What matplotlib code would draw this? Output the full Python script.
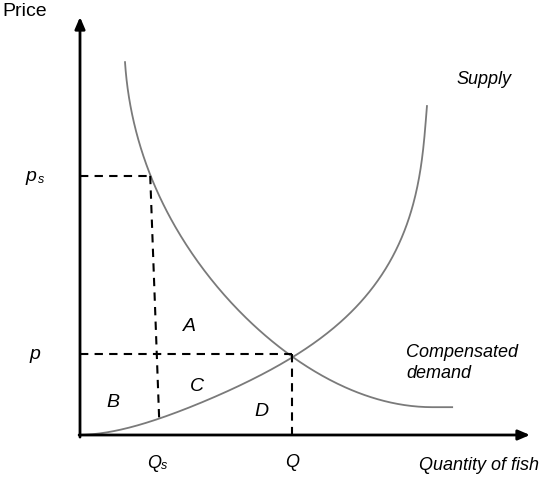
import numpy as np
import matplotlib
matplotlib.use("Agg")
import matplotlib.pyplot as plt

# Curve points (quantity, price), arbitrary units
supply_q = [0.0, 0.73, 1.73, 2.44, 3.18, 3.93, 4.71, 5.71, 6.44, 7.04, 7.40, 7.62, 7.71]
supply_p = [0.0, 0.12, 0.36, 0.65, 1.00, 1.39, 1.91, 2.58, 3.40, 4.50, 5.62, 6.58, 7.87]
demand_q = [1.0, 1.18, 1.56, 1.89, 2.38, 2.89, 3.78, 4.71, 5.11, 5.56, 6.16, 6.89, 7.62, 8.27]
demand_p = [8.92, 7.61, 6.22, 5.43, 4.50, 3.71, 2.80, 1.91, 1.56, 1.27, 1.00, 0.79, 0.72, 0.69]

p_s = 6.20
p_eq = 1.93
Q_eq = 4.71
Qs_top, Qs_bot = 1.56, 1.76
Qs_bot_p = 0.36

area_labels = ["A", "B", "C", "D"]
area_q = [2.44, 0.73, 2.6, 4.04]
area_p = [2.6, 0.77, 1.15, 0.57]


def smooth_param(xs, ys, deg=6, n=300):
    xs = np.asarray(xs, float)
    ys = np.asarray(ys, float)
    seg = np.hypot(np.diff(xs) * 45, np.diff(ys) * 41.8)
    t = np.concatenate([[0], np.cumsum(seg)])
    t = t / t[-1]
    w = np.ones_like(t)
    w[0] = w[-1] = 5
    cx = np.polyfit(t, xs, deg, w=w)
    cy = np.polyfit(t, ys, deg, w=w)
    tt = np.linspace(0, 1, n)
    return np.polyval(cx, tt), np.polyval(cy, tt)


plt.rcParams['font.family'] = ['Liberation Sans', 'DejaVu Sans']
fig = plt.figure(figsize=(5.5, 4.78), dpi=100)
W, H = 550, 478
ax = fig.add_axes([80 / W, (H - 435) / H, 450 / W, 418 / H])
ax.set_xlim(0, 10)
ax.set_ylim(0, 10)
ax.axis('off')

# axes with arrows
arrow = dict(arrowstyle='-|>,head_length=0.7,head_width=0.3', lw=2, color='black',
             shrinkA=0, shrinkB=0)
ax.annotate('', xy=(0, 10), xytext=(0, -0.05), arrowprops=arrow, annotation_clip=False)
ax.annotate('', xy=(10, 0), xytext=(-0.02, 0), arrowprops=arrow, annotation_clip=False)

sx, sy = smooth_param(supply_q, supply_p, deg=6)
dx, dy = smooth_param(demand_q, demand_p, deg=5)
dy = np.minimum.accumulate(dy)  # demand never rises
ax.plot(sx, sy, color='#7a7a7a', lw=1.3, clip_on=False)
ax.plot(dx, dy, color='#7a7a7a', lw=1.3, clip_on=False)

dash = dict(color='black', lw=1.5, ls=(0, (4, 3)))
ax.plot([0, Qs_top], [p_s, p_s], **dash)
ax.plot([Qs_top, Qs_bot], [p_s, Qs_bot_p], **dash)
ax.plot([0, Q_eq], [p_eq, p_eq], **dash)
ax.plot([Q_eq, Q_eq], [p_eq, 0], **dash)

fs = 13
ax.text(-1.1, p_s - 0.02, 'p', fontsize=fs + 1, style='italic', ha='center', va='center')
ax.text(-0.87, p_s - 0.1, 's', fontsize=fs - 4, style='italic', ha='center', va='center')
ax.text(-1.0, p_eq, 'p', fontsize=fs + 1, style='italic', ha='center', va='center')
ax.text(1.65, -0.68, 'Q', fontsize=fs, style='italic', ha='center', va='center')
ax.text(1.87, -0.75, 's', fontsize=fs - 4, style='italic', ha='center', va='center')
ax.text(Q_eq, -0.66, 'Q', fontsize=fs, style='italic', ha='center', va='center')
ax.text(7.53, -0.72, 'Quantity of fish', fontsize=fs, style='italic', ha='left', va='center')
ax.text(-1.72, 10.13, 'Price', fontsize=fs + 1, ha='left', va='center')
ax.text(8.36, 8.5, 'Supply', fontsize=fs, style='italic', ha='left', va='center')
ax.text(7.25, 1.72, 'Compensated\ndemand', fontsize=fs, style='italic', ha='left',
        va='center', linespacing=1.25)
for lab, q, p in zip(area_labels, area_q, area_p):
    ax.text(q, p, lab, fontsize=fs + 1, style='italic', ha='center', va='center')

fig.savefig('out.png', dpi=100)
